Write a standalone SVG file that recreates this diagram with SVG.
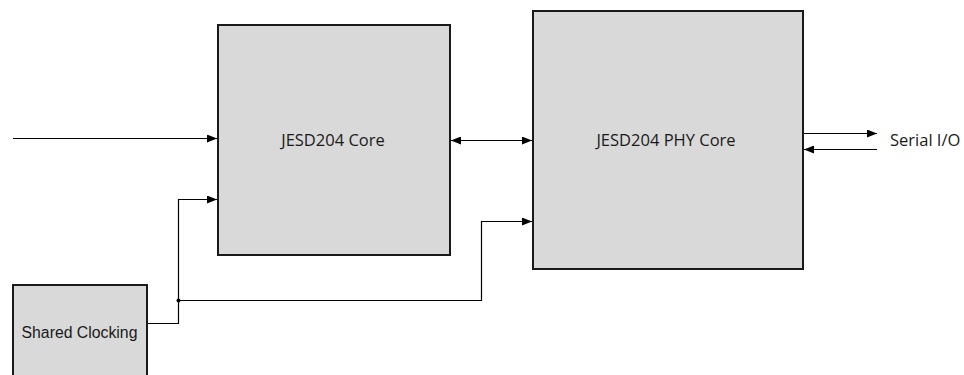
<svg xmlns="http://www.w3.org/2000/svg" width="964" height="375" viewBox="0 0 964 375">
<style>
.box{fill:#d9d9d9;stroke:#1a1a1a;stroke-width:2}
.lbl{font-family:"Open Sans","Liberation Sans",sans-serif;font-size:16.5px;fill:#1a1a1a}
.lbl2{font-family:"Liberation Sans",Arial,sans-serif;font-size:15.8px;fill:#1a1a1a}
.ln{fill:none;stroke:#000;stroke-width:1.2}
</style>
<defs>
<marker id="ah" viewBox="0 0 10 8" refX="10" refY="4" markerWidth="10" markerHeight="8" markerUnits="userSpaceOnUse" orient="auto-start-reverse">
<path d="M0,0 L10,4 L0,8 Z" fill="#000"/>
</marker>
</defs>
<rect width="964" height="375" fill="#fff"/>
<g id="jesd204-core">
<rect class="box" x="218" y="25" width="232" height="230"/>
<text class="lbl" x="333" y="146" text-anchor="middle">JESD204 Core</text>
</g>
<g id="jesd204-phy-core">
<rect class="box" x="533" y="11" width="270" height="258"/>
<text class="lbl" x="666" y="146" text-anchor="middle">JESD204 PHY Core</text>
</g>
<g id="shared-clocking">
<rect class="box" x="13" y="285" width="134" height="100"/>
<text class="lbl2" x="79.5" y="338" text-anchor="middle">Shared Clocking</text>
</g>
<g id="serial-io">
<text class="lbl" x="890" y="146">Serial I/O</text>
</g>
<g id="connectors">
<path class="ln" d="M13,138.5 H217" marker-end="url(#ah)"/>
<path class="ln" d="M451,140.5 H532" marker-start="url(#ah)" marker-end="url(#ah)"/>
<path class="ln" d="M804,133.5 H877" marker-end="url(#ah)"/>
<path class="ln" d="M877,149.5 H804" marker-end="url(#ah)"/>
<path class="ln" d="M148,323.5 H178.5 V199.5 H217" marker-end="url(#ah)"/>
<path class="ln" d="M178.5,300.5 H481.5 V221.5 H532" marker-end="url(#ah)"/>
<circle cx="178.5" cy="300.5" r="2" fill="#000"/>
</g>
</svg>
